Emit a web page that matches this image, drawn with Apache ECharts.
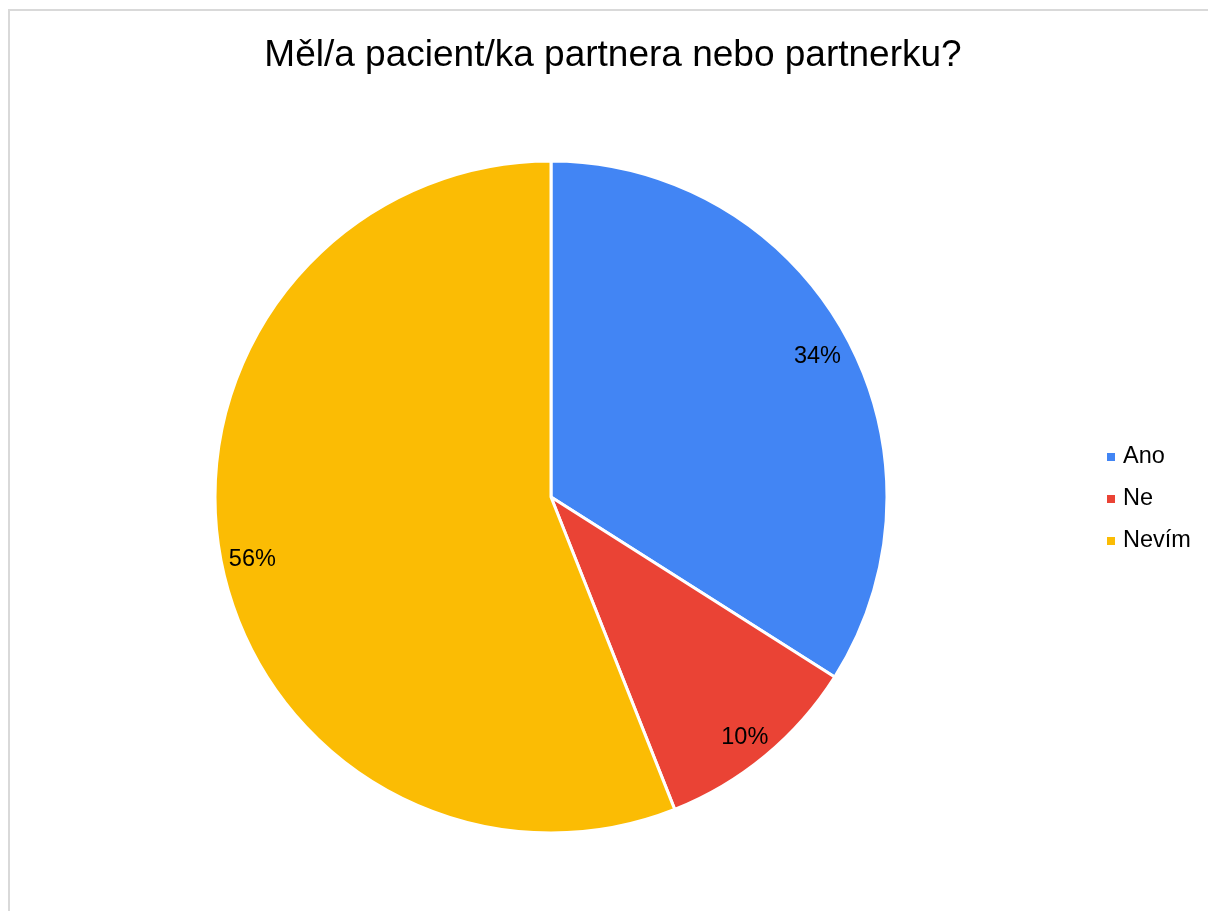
<!DOCTYPE html>
<html>
<head>
<meta charset="utf-8">
<script src="https://cdn.jsdelivr.net/npm/echarts@6/dist/echarts.min.js"></script>
<style>
  html, body { margin: 0; padding: 0; background: #ffffff; }
  #chart { width: 1208px; height: 911px; }
</style>
</head>
<body>
<div id="chart"></div>
<script>
// Survey answers and their shares (percent)
const categories = ['Ano', 'Ne', 'Nevím'];
const shares = [34, 10, 56];
const colors = ['#4285F4', '#EA4335', '#FBBC04'];
const titleText = 'Měl/a pacient/ka partnera nebo partnerku?';

const font = '"Liberation Sans", Arial, sans-serif';
const pieData = categories.map((name, i) => ({
  name: name,
  value: shares[i],
  itemStyle: { color: colors[i] }
}));

const chart = echarts.init(document.getElementById('chart'), null, { renderer: 'canvas' });
chart.setOption({
  backgroundColor: '#ffffff',
  animation: false,
  title: {
    text: titleText,
    left: 608,
    textAlign: 'center',
    top: 32,
    textStyle: { fontFamily: font, fontSize: 37, fontWeight: 'normal', color: '#000000' }
  },
  legend: {
    orient: 'vertical',
    left: 1102,
    top: 440,
    icon: 'rect',
    itemWidth: 8,
    itemHeight: 8,
    itemGap: 18,
    data: categories,
    itemStyle: { borderWidth: 0 },
    textStyle: { fontFamily: font, fontSize: 23.5, color: '#000000', padding: [0, 0, 0, 3] }
  },
  graphic: [{
    type: 'rect',
    shape: { x: 9, y: 10, width: 1400, height: 1200 },
    style: { fill: 'none', stroke: '#d9d9d9', lineWidth: 2 },
    silent: true,
    z: -1
  }],
  series: [
    {
      name: 'slices',
      type: 'pie',
      center: [551, 497],
      radius: [0, 336],
      startAngle: 90,
      clockwise: true,
      data: pieData,
      label: { show: false },
      labelLine: { show: false },
      itemStyle: { borderColor: '#ffffff', borderWidth: 3 },
      emphasis: { disabled: true }
    },
    {
      // transparent twin used only to place the percentage labels near the rim
      name: 'labels',
      type: 'pie',
      center: [551, 497],
      radius: [0, 602],
      startAngle: 90,
      clockwise: true,
      silent: true,
      data: categories.map((name, i) => ({ name: name, value: shares[i] })),
      itemStyle: { color: 'rgba(0,0,0,0)', borderWidth: 0 },
      label: {
        show: true,
        position: 'inside',
        formatter: '{c}%',
        fontFamily: font,
        fontSize: 23.5,
        color: '#000000',
        offset: [0, 6]
      },
      labelLine: { show: false },
      emphasis: { disabled: true },
      z: 3
    }
  ]
});
</script>
</body>
</html>
